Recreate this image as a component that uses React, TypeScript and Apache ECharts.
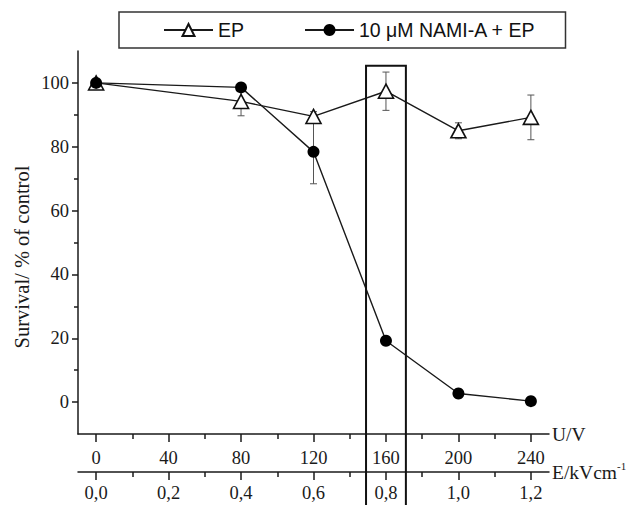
import React, { useEffect, useRef } from "react";
import * as echarts from "echarts";

// ---- data ----
const uValues = [0, 80, 120, 160, 200, 240];
const epMean = [100, 94.2, 89.5, 97.4, 85, 89.2];
const epErr = [0, 4.5, 1.5, 6, 2.5, 7];
const namiMean = [100, 98.6, 78.4, 19.2, 2.7, 0.3];
const namiErr = [0, 1, 10, 0, 0, 0];

const uTicks = [0, 40, 80, 120, 160, 200, 240];
const uMinorTicks = [20, 60, 100, 140, 180, 220];
const yTicks = [0, 20, 40, 60, 80, 100];
const yMinorTicks = [10, 30, 50, 70, 90];

const seriesNames = ["EP", "10 μM NAMI-A + EP"];
const highlightU = [149, 171];
const highlightTop = 105.4;
const highlightBottom = -60;

const SERIF = '"Liberation Serif", "Times New Roman", serif';
const SANS = '"Liberation Sans", Arial, sans-serif';
const INK = "#1a1a1a";

const fmtE = (v: number) => (v / 200).toFixed(1).replace(".", ",");

export default function App() {
  const ref = useRef<HTMLDivElement>(null);
  useEffect(() => {
    document.body.style.margin = "0";
    if (!ref.current) return;
    const chart = echarts.init(ref.current, null, { renderer: "svg" });

    const errData = (mean: number[], err: number[]) =>
      uValues
        .map((u, i) => [u, mean[i] - err[i], mean[i] + err[i]])
        .filter((_, i) => err[i] > 0);

    const renderErr = (params: any, api: any) => {
      const x = api.value(0);
      const lo = api.coord([x, api.value(1)]);
      const hi = api.coord([x, api.value(2)]);
      const hw = 3.5;
      const st = { stroke: "#555", lineWidth: 1 };
      return {
        type: "group",
        children: [
          { type: "line", shape: { x1: lo[0], y1: lo[1], x2: hi[0], y2: hi[1] }, style: st },
          { type: "line", shape: { x1: lo[0] - hw, y1: lo[1], x2: lo[0] + hw, y2: lo[1] }, style: st },
          { type: "line", shape: { x1: hi[0] - hw, y1: hi[1], x2: hi[0] + hw, y2: hi[1] }, style: st },
        ],
      };
    };

    const baseX = {
      type: "value",
      min: -10,
      max: 250,
      position: "bottom",
      splitLine: { show: false },
    };
    const axisLineStyle = { color: INK, width: 1.5 };

    const yName = {
      type: "text",
      x: 22,
      y: 257,
      rotation: Math.PI / 2,
      style: {
        text: "Survival/ % of control",
        font: `20.5px ${SERIF}`,
        fill: INK,
        align: "center",
        verticalAlign: "middle",
      },
    };

    chart.setOption({
      animation: false,
      grid: { left: 78, top: 51, width: 471, height: 383, containLabel: false, outerBoundsMode: "none" },
      legend: {
        data: seriesNames,
        left: 119,
        top: 12,
        padding: [8, 30, 8, 44],
        itemGap: 60,
        itemWidth: 49,
        itemHeight: 15,
        borderColor: "#333",
        borderWidth: 1.5,
        textStyle: { fontFamily: SANS, fontSize: 19.5, color: "#111" },
      },
      xAxis: [
        {
          ...baseX,
          name: "U/V",
          nameLocation: "end",
          nameGap: 3,
          nameTextStyle: { fontFamily: SERIF, fontSize: 19.5, color: INK, verticalAlign: "middle" },
          axisLine: { show: true, onZero: false, lineStyle: axisLineStyle },
          axisTick: { show: true, inside: false, length: 8, customValues: uTicks, lineStyle: axisLineStyle },
          axisLabel: { customValues: uTicks, margin: 14, fontFamily: SERIF, fontSize: 18.5, color: INK },
        },
        {
          ...baseX,
          axisLine: { show: false, onZero: false },
          axisTick: { show: true, inside: false, length: 5, customValues: uMinorTicks, lineStyle: axisLineStyle },
          axisLabel: { show: false },
        },
        {
          ...baseX,
          offset: 38,
          name: "{a|E/kVcm}{s|-1}",
          nameLocation: "end",
          nameGap: 3,
          nameTextStyle: {
            verticalAlign: "middle",
            rich: {
              a: { fontFamily: SERIF, fontSize: 19.5, color: INK },
              s: { fontFamily: SERIF, fontSize: 11, color: INK, padding: [0, 0, 12, 0] },
            },
          },
          axisLine: { show: true, onZero: false, lineStyle: axisLineStyle },
          axisTick: { show: true, inside: false, length: 8, customValues: uTicks, lineStyle: axisLineStyle },
          axisLabel: {
            customValues: uTicks,
            margin: 11,
            fontFamily: SERIF,
            fontSize: 18.5,
            color: INK,
            formatter: (v: number) => fmtE(v),
          },
        },
        {
          ...baseX,
          offset: 38,
          axisLine: { show: false, onZero: false },
          axisTick: { show: true, inside: false, length: 5, customValues: uMinorTicks, lineStyle: axisLineStyle },
          axisLabel: { show: false },
        },
      ],
      yAxis: [
        {
          type: "value",
          min: -10,
          max: 110,
          position: "left",
          splitLine: { show: false },
          axisLine: { show: true, onZero: false, lineStyle: axisLineStyle },
          axisTick: { show: true, inside: false, length: 6, customValues: yTicks, lineStyle: axisLineStyle },
          axisLabel: { customValues: yTicks, margin: 9, fontFamily: SERIF, fontSize: 18.5, color: INK },
        },
        {
          type: "value",
          min: -10,
          max: 110,
          position: "left",
          splitLine: { show: false },
          axisLine: { show: false, onZero: false },
          axisTick: { show: true, inside: false, length: 4, customValues: yMinorTicks, lineStyle: axisLineStyle },
          axisLabel: { show: false },
        },
      ],
      series: [
        {
          type: "custom",
          name: "epErr",
          xAxisIndex: 0,
          yAxisIndex: 0,
          renderItem: renderErr,
          encode: { x: 0, y: [1, 2] },
          data: errData(epMean, epErr),
          z: 1,
        },
        {
          type: "custom",
          name: "namiErr",
          xAxisIndex: 0,
          yAxisIndex: 0,
          renderItem: renderErr,
          encode: { x: 0, y: [1, 2] },
          data: errData(namiMean, namiErr),
          z: 1,
        },
        {
          type: "line",
          name: seriesNames[0],
          xAxisIndex: 0,
          yAxisIndex: 0,
          data: uValues.map((u, i) => [u, epMean[i]]),
          symbol: "triangle",
          symbolSize: [15, 14],
          lineStyle: { color: INK, width: 1.4 },
          itemStyle: { color: "#fff", borderColor: "#111", borderWidth: 1.6 },
          z: 3,
        },
        {
          type: "line",
          name: seriesNames[1],
          xAxisIndex: 0,
          yAxisIndex: 0,
          data: uValues.map((u, i) => [u, namiMean[i]]),
          symbol: "circle",
          symbolSize: 12,
          lineStyle: { color: INK, width: 1.4 },
          itemStyle: { color: "#000", borderColor: "#000", borderWidth: 0 },
          z: 4,
        },
      ],
      graphic: [yName],
    });

    const p1 = chart.convertToPixel({ xAxisIndex: 0, yAxisIndex: 0 }, [highlightU[0], highlightTop]) as number[];
    const p2 = chart.convertToPixel({ xAxisIndex: 0, yAxisIndex: 0 }, [highlightU[1], highlightBottom]) as number[];
    chart.setOption({
      graphic: [
        yName,
        {
          type: "rect",
          z: 100,
          shape: { x: p1[0], y: p1[1], width: p2[0] - p1[0], height: p2[1] - p1[1] },
          style: { fill: "none", stroke: "#111", lineWidth: 2 },
        },
      ],
    });

    return () => chart.dispose();
  }, []);
  return <div ref={ref} style={{ width: 632, height: 505 }} />;
}
